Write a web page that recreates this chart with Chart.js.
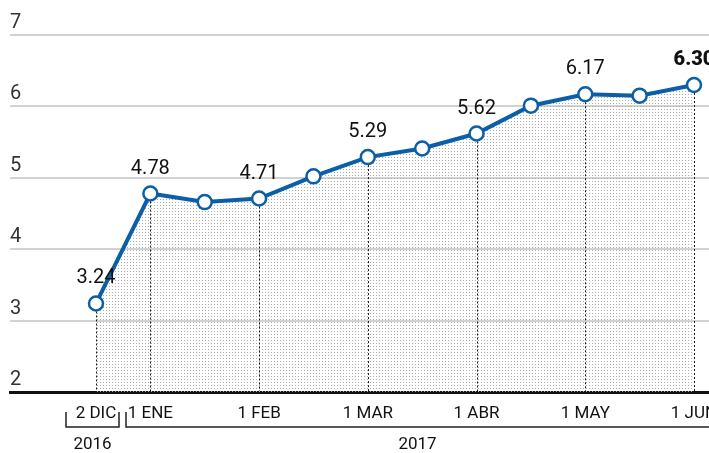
<!DOCTYPE html>
<html>
<head>
<meta charset="utf-8">
<script src="https://cdn.jsdelivr.net/npm/chart.js@4/dist/chart.umd.min.js"></script>
<style>
  html, body { margin: 0; padding: 0; background: #fff; overflow: hidden; }
  canvas { display: block; }
</style>
</head>
<body>
<canvas id="chart1" width="709" height="453"></canvas>
<script>
// data (one point every ~2 weeks)
const values = [3.24, 4.78, 4.66, 4.71, 5.02, 5.29, 5.41, 5.62, 6.01, 6.17, 6.15, 6.30]
const tickLabels = ['2 DIC', '1 ENE', '', '1 FEB', '', '1 MAR', '', '1 ABR', '', '1 MAY', '', '1 JUN']
const valueLabels = ['3.24', '4.78', '', '4.71', '', '5.29', '', '5.62', '', '6.17', '', '6.30']
const yTicks = [2, 3, 4, 5, 6, 7]
const years = ['2016', '2017']
const yearFrom = [-0.55, 0.55]
const yearTo = [0.42, null]

const blue = '#0b5ea8'
const font = 'Roboto, "Liberation Sans", sans-serif'

// dotted fill
const pat = document.createElement('canvas')
pat.width = 3; pat.height = 3
const pctx = pat.getContext('2d')
pctx.fillStyle = '#ababab'
pctx.fillRect(1, 1, 1, 1)

const canvas = document.getElementById('chart1')
const context = canvas.getContext('2d')
const dotFill = context.createPattern(pat, 'repeat')

const extras = {
  id: 'extras',
  beforeDatasetsDraw(chart) {
    const ctx = chart.ctx, x = chart.scales.x, y = chart.scales.y
    const bottom = chart.chartArea.bottom
    ctx.save()
    ctx.strokeStyle = '#1a1a1a'
    ctx.lineWidth = 1
    ctx.setLineDash([2, 2])
    values.forEach((v, i) => {
      if (!tickLabels[i]) return
      const px = Math.round(x.getPixelForValue(i)) + 0.5
      ctx.beginPath()
      ctx.moveTo(px, y.getPixelForValue(v))
      ctx.lineTo(px, bottom - 1)
      ctx.stroke()
    })
    ctx.restore()
  },
  afterDatasetsDraw(chart) {
    const ctx = chart.ctx, x = chart.scales.x, y = chart.scales.y
    const area = chart.chartArea
    ctx.save()
    // y tick labels sitting above the grid lines
    ctx.fillStyle = '#333'
    ctx.font = '20px ' + font
    ctx.textAlign = 'left'
    ctx.textBaseline = 'alphabetic'
    yTicks.forEach(t => ctx.fillText(String(t), area.left, y.getPixelForValue(t) - 7))
    // value labels
    ctx.fillStyle = '#111'
    ctx.textAlign = 'center'
    values.forEach((v, i) => {
      if (!valueLabels[i]) return
      ctx.font = (i === values.length - 1 ? '900 ' : '') + '20px ' + font
      ctx.fillText(valueLabels[i], x.getPixelForValue(i), y.getPixelForValue(v) - 20)
    })
    // x tick labels (drawn here so the last one can run off the edge)
    ctx.font = '17px ' + font
    tickLabels.forEach((t, i) => {
      if (t) ctx.fillText(t, x.getPixelForValue(i), area.bottom + 26)
    })
    // year brackets
    ctx.strokeStyle = '#222'
    ctx.lineWidth = 1.5
    years.forEach((yr, i) => {
      const x0 = Math.round(x.getPixelForValue(yearFrom[i]))
      const x1 = yearTo[i] === null ? chart.width : Math.round(x.getPixelForValue(yearTo[i]))
      ctx.beginPath()
      ctx.moveTo(x0, 412)
      ctx.lineTo(x0, 427)
      ctx.lineTo(x1, 427)
      if (yearTo[i] !== null) ctx.lineTo(x1, 412)
      ctx.stroke()
      ctx.fillText(yr, (x0 + x1) / 2, 449)
    })
    ctx.restore()
  }
}

const config = {
  type: 'line',
  data: {
    datasets: [{
      data: values.map((v, i) => ({ x: i, y: v })),
      borderColor: blue,
      borderWidth: 4,
      backgroundColor: dotFill,
      fill: 'start',
      pointRadius: 7,
      pointHoverRadius: 7,
      pointBorderWidth: 2.5,
      pointBackgroundColor: '#fff',
      pointBorderColor: blue,
      tension: 0,
      clip: false
    }]
  },
  options: {
    responsive: false,
    maintainAspectRatio: false,
    animation: false,
    devicePixelRatio: 1,
    layout: { autoPadding: false, padding: { top: 35, left: 0, right: 0, bottom: 0 } },
    plugins: {
      legend: { display: false },
      tooltip: { enabled: false },
      filler: { drawTime: 'beforeDatasetsDraw' }
    },
    scales: {
      x: {
        type: 'linear',
        min: -1.582,
        max: 11.276,
        grid: { display: false, drawTicks: false },
        border: { display: true, color: '#111', width: 3 },
        afterFit: s => { s.height = 61 },
        ticks: { display: false }
      },
      y: {
        min: 2,
        max: 7,
        afterBuildTicks: s => { s.ticks = yTicks.map(v => ({ value: v })) },
        afterFit: s => { s.width = 10 },
        grid: { color: '#d2d2d2', lineWidth: 2, drawTicks: false },
        border: { display: false },
        ticks: { display: false }
      }
    }
  },
  plugins: [extras]
}

const myChart = new Chart(context, config)
</script>
</body>
</html>
